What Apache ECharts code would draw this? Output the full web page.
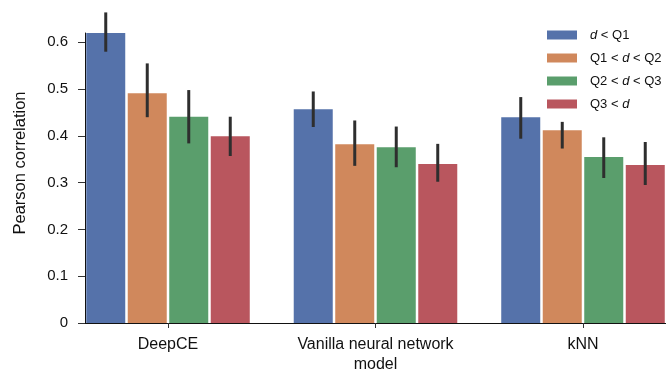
<!DOCTYPE html>
<html>
<head>
<meta charset="utf-8">
<script src="https://cdn.jsdelivr.net/npm/echarts@6/dist/echarts.min.js"></script>
<style>
  html, body { margin: 0; padding: 0; background: #fff; }
  #chart { width: 666px; height: 375px; }
</style>
</head>
<body>
<div id="chart"></div>
<script>
const categories = ['DeepCE', 'Vanilla neural network\nmodel', 'kNN']
const groupNames = ['d < Q1', 'Q1 < d < Q2', 'Q2 < d < Q3', 'Q3 < d']
const colors = ['#5572aa', '#d0885c', '#5a9e6c', '#b9565e']

// mean pearson correlation per group, one value per category
const meanQ1 = [0.621, 0.457, 0.440]
const meanQ2 = [0.491, 0.382, 0.412]
const meanQ3 = [0.441, 0.376, 0.355]
const meanQ4 = [0.399, 0.340, 0.338]

// confidence interval low / high
const lowQ1 = [0.580, 0.419, 0.394]
const highQ1 = [0.664, 0.495, 0.483]
const lowQ2 = [0.440, 0.336, 0.373]
const highQ2 = [0.555, 0.433, 0.430]
const lowQ3 = [0.384, 0.333, 0.310]
const highQ3 = [0.498, 0.420, 0.397]
const lowQ4 = [0.357, 0.302, 0.295]
const highQ4 = [0.441, 0.383, 0.387]

const yTicks = [0, 0.1, 0.2, 0.3, 0.4, 0.5, 0.6]

const means = [meanQ1, meanQ2, meanQ3, meanQ4]
const lows = [lowQ1, lowQ2, lowQ3, lowQ4]
const highs = [highQ1, highQ2, highQ3, highQ4]

const font = 'Liberation Sans, Arial, Helvetica, sans-serif'
const myChart = echarts.init(document.getElementById('chart'), null, { renderer: 'canvas' })

const barSeries = means.map((vals, i) => ({
  name: groupNames[i],
  type: 'bar',
  barWidth: '18.8%',
  barGap: '6.4%',
  data: vals.map((v, c) => [c, v]),
  itemStyle: { color: colors[i] },
  z: 2
}))

const errSeries = means.map((vals, i) => ({
  type: 'custom',
  silent: true,
  z: 5,
  data: vals.map((v, c) => [c, lows[i][c], highs[i][c]]),
  encode: { x: 0, y: [1, 2] },
  renderItem: (params, api) => {
    const x = api.value(0) + (i - 1.5) * 0.2
    const p1 = api.coord([x, api.value(1)])
    const p2 = api.coord([x, api.value(2)])
    return {
      type: 'line',
      shape: { x1: p1[0], y1: p1[1], x2: p2[0], y2: p2[1] },
      style: { stroke: '#2e2e2e', lineWidth: 3 }
    }
  }
}))

const option = {
  animation: false,
  textStyle: { fontFamily: font },
  grid: {
    left: 85,
    right: -8,
    top: 33,
    bottom: 51.7
  },
  legend: {
    orient: 'vertical',
    left: 547,
    top: 28,
    padding: 0,
    itemWidth: 30,
    itemHeight: 9,
    itemGap: 9,
    icon: 'rect',
    data: groupNames,
    formatter: (name) => name.replace('d', '{i|d}'),
    textStyle: {
      color: '#111',
      fontSize: 13,
      lineHeight: 14,
      padding: [0, 0, 0, 8],
      rich: {
        i: { fontStyle: 'italic', fontSize: 13, color: '#111' }
      }
    }
  },
  xAxis: {
    type: 'value',
    min: -0.4,
    max: 2.4,
    splitLine: { show: false },
    axisLine: { show: true, lineStyle: { color: '#111', width: 1 } },
    axisTick: {
      show: true,
      customValues: [0, 1, 2],
      length: 5,
      lineStyle: { color: '#333' }
    },
    axisLabel: {
      customValues: [0, 1, 2],
      formatter: (v) => categories[Math.round(v)],
      color: '#111',
      fontSize: 16,
      lineHeight: 20,
      margin: 12
    }
  },
  yAxis: {
    type: 'value',
    min: 0,
    max: 0.62,
    name: 'Pearson correlation',
    nameLocation: 'middle',
    nameGap: 56,
    nameRotate: 90,
    nameTextStyle: {
      color: '#111',
      fontSize: 16.5,
      padding: [0, 0, 0, 30]
    },
    splitLine: { show: false },
    axisLine: { show: true, onZero: false, lineStyle: { color: '#111', width: 1 } },
    axisTick: {
      show: true,
      customValues: yTicks,
      length: 7,
      lineStyle: { color: '#333' }
    },
    axisLabel: {
      customValues: yTicks,
      formatter: (v) => (v === 0 ? '0' : v.toFixed(1)),
      color: '#111',
      fontSize: 15,
      margin: 17
    }
  },
  series: [...barSeries, ...errSeries]
}

myChart.setOption(option)
</script>
</body>
</html>
